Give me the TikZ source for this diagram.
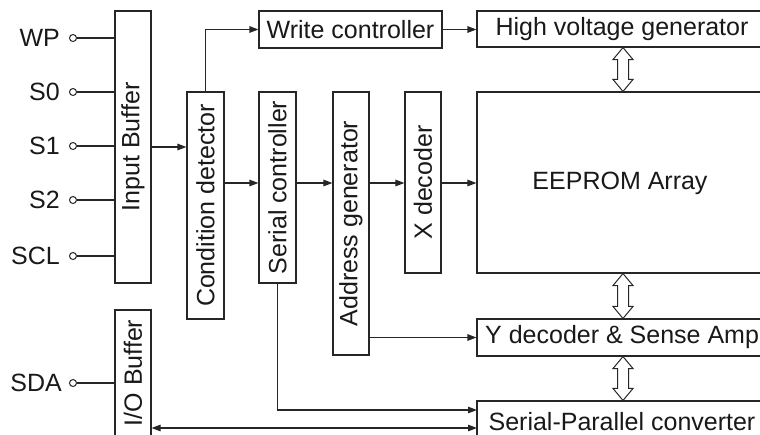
\documentclass[tikz,border=0pt]{standalone}
\usepackage{fontspec}
\setmainfont{Liberation Sans}
\usetikzlibrary{arrows.meta,calc}
\tikzset{
  blk/.style={draw=black!85, line width=1.1pt, inner sep=0pt, fill=none},
  txt/.style={inner sep=0pt, font=\fontsize{25}{30}\selectfont, text=black!90},
  vtxt/.style={txt, rotate=90},
  wire/.style={draw=black!85, line width=1.1pt},
  arr/.style={wire, -{Triangle[length=9pt,width=6.5pt]}},
  darr/.style={wire, {Triangle[length=9pt,width=6.5pt]}-{Triangle[length=9pt,width=6.5pt]}},
  pin/.style={circle, draw=black!85, line width=1pt, minimum size=7pt, inner sep=0pt, fill=white},
  fatarrow/.style={draw=black!85, line width=1pt, fill=white, line join=miter}
}
\newcommand\dblarr[2]{%
  \draw[fatarrow] (#1) -- ++(10,12) -- ++(-4.5,0) -- ($(#2)+(5.5,-12)$) -- ++(4.5,0) -- (#2)
    -- ++(-10,-12) -- ++(4.5,0) -- ($(#1)+(-5.5,12)$) -- ++(-4.5,0) -- cycle;}
\begin{document}
\begin{tikzpicture}[x=1pt,y=-1pt]
\useasboundingbox (0,0) rectangle (760,434);
\clip (0,0) rectangle (760,434);
\fill[white] (0,0) rectangle (760,434);

% boxes
\node[blk, minimum width=36pt, minimum height=272pt] (ib) at (133,147) {};
\node[vtxt] at (ib) {Input Buffer};
\node[blk, minimum width=36pt, minimum height=126pt] (io) at (133,373) {};
\node[vtxt] at (io) {I/O Buffer};
\node[blk, minimum width=37pt, minimum height=227pt] (cd) at (205.5,205.5) {};
\node[vtxt] at (cd) {Condition detector};
\node[blk, minimum width=183pt, minimum height=37pt] (wc) at (350.5,29.5) {};
\node[txt] at (wc) {Write controller};
\node[blk, minimum width=290pt, minimum height=36pt] (hv) at (622,29) {};
\node[txt] at (hv) {High voltage generator};
\node[blk, minimum width=290pt, minimum height=181pt] (ee) at (622,182.5) {};
\node[txt] at (620,183) {EEPROM Array};
\node[blk, minimum width=37pt, minimum height=191pt] (sc) at (277.5,187.5) {};
\node[vtxt] at (sc) {Serial controller};
\node[blk, minimum width=36pt, minimum height=263pt] (ag) at (351,223.5) {};
\node[vtxt] at (ag) {Address generator};
\node[blk, minimum width=36pt, minimum height=181pt] (xd) at (423,182.5) {};
\node[vtxt] at (xd) {X decoder};
\node[blk, minimum width=290pt, minimum height=37pt] (yd) at (622,337.5) {};
\node[txt, anchor=west] at (485,337.5) {Y decoder \& Sense Amp};
\node[blk, minimum width=290pt, minimum height=37pt] (sp) at (622,419.5) {};
\node[txt, anchor=base] at (622,430) {Serial-Parallel converter};

% pins
\foreach \nm/\lab/\yy/\xx in {wp/WP/38/60, s0/S0/92/60, s1/S1/146/60, s2/S2/200/60, scl/SCL/256/60} {
  \node[pin] (\nm) at (73,\yy) {};
  \node[txt, anchor=east] at (\xx,\yy) {\lab};
  \draw[wire] (\nm.east) -- (\nm.east -| ib.west);
}
\node[pin] (sda) at (73,383) {};
\node[txt, anchor=east] at (62,383) {SDA};
\draw[wire] (sda.east) -- (sda.east -| io.west);

% connectors
\draw[arr] (ib.east) -- (ib.east -| cd.west);
\draw[arr] (cd.north) |- (wc.west);
\draw[arr] (wc.east) -- (wc.east -| hv.west);
\coordinate (row) at (0,183);
\draw[arr] (cd.east |- row) -- (sc.west |- row);
\draw[arr] (sc.east |- row) -- (ag.west |- row);
\draw[arr] (ag.east |- row) -- (xd.west |- row);
\draw[arr] (xd.east |- row) -- (ee.west |- row);
\draw[arr] (ag.east |- yd) -- (yd.west);
\coordinate (sp1) at (477,410);
\coordinate (sp2) at (477,428);
\draw[arr] (sc.south) |- (sp1);
\draw[darr] (io.east |- sp2) -- (sp2);

% block double arrows
\coordinate (d1a) at ($(hv.south)+(1,0)$);
\coordinate (d1b) at ($(ee.north)+(1,0)$);
\coordinate (d2a) at ($(ee.south)+(1,0)$);
\coordinate (d2b) at ($(yd.north)+(1,0)$);
\coordinate (d3a) at ($(yd.south)+(1,0)$);
\coordinate (d3b) at ($(sp.north)+(1,0)$);
\dblarr{d1a}{d1b}
\dblarr{d2a}{d2b}
\dblarr{d3a}{d3b}
\end{tikzpicture}
\end{document}
